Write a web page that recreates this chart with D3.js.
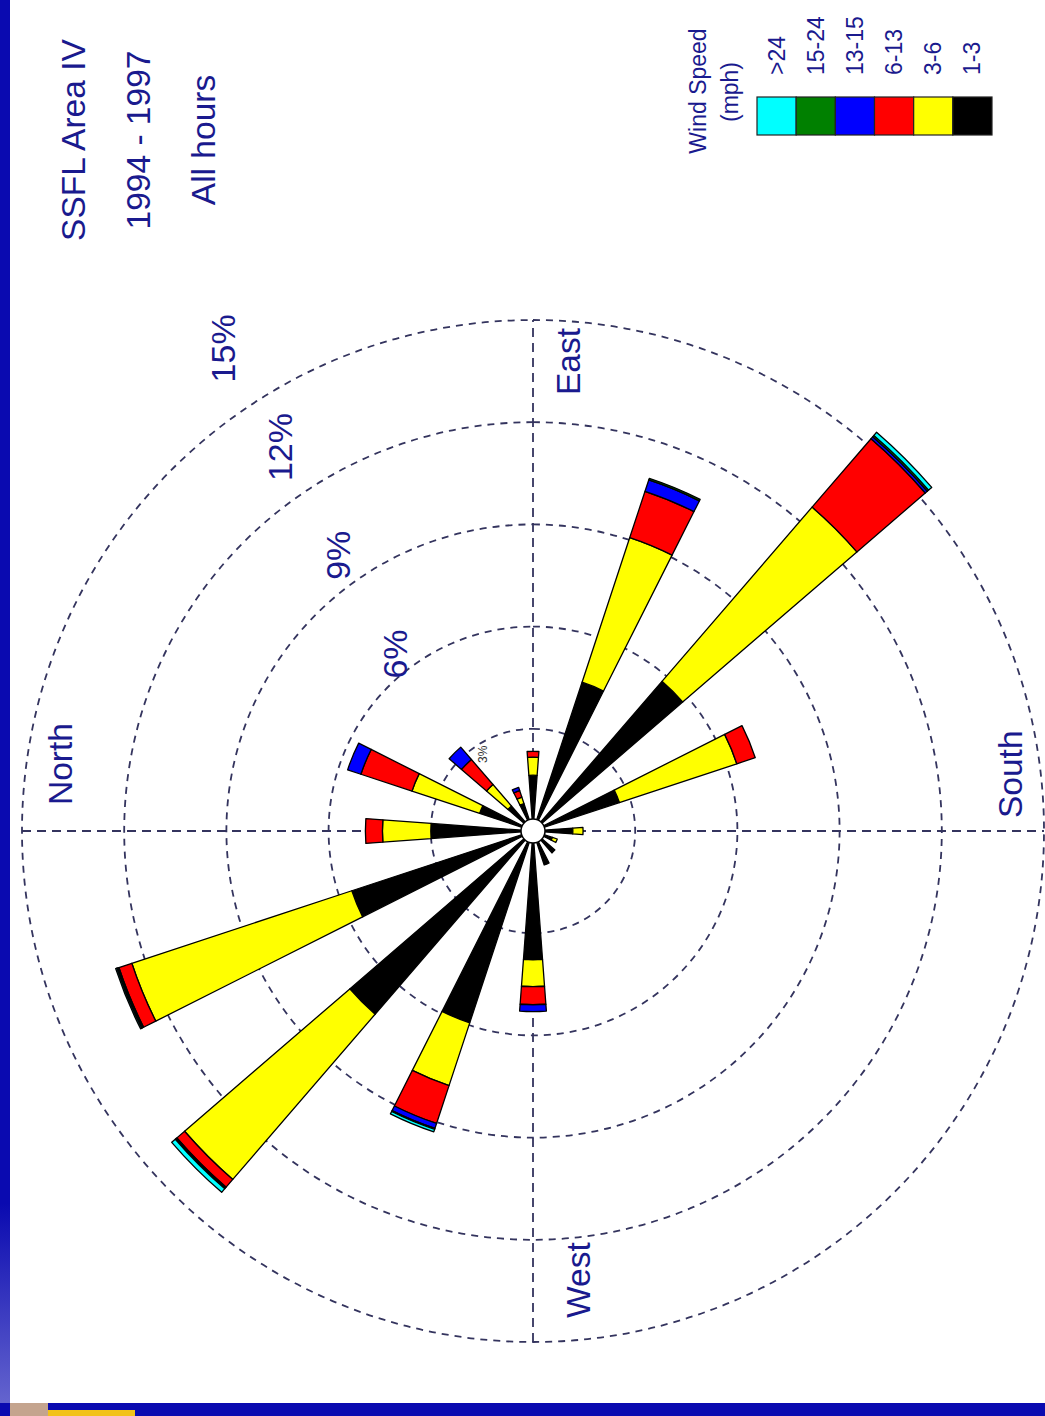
<!DOCTYPE html>
<meta charset="utf-8">
<style>
    html, body {
        margin: 0;
        padding: 0;
        background: #ffffff;
    }
    svg {
        display: block;
        font-family: "Liberation Sans", Arial, sans-serif;
    }
</style>
<div id="chart"></div>
<script src="https://d3js.org/d3.v7.js"></script>
<script>
    // wind rose data, percent of all hours, per direction and speed class
    const directions = ["N", "NNE", "NE", "ENE", "E", "ESE", "SE", "SSE",
        "S", "SSW", "SW", "WSW", "W", "WNW", "NW", "NNW"];
    const speedClasses = ["1-3", "3-6", "6-13", "13-15", "15-24", ">24"];
    const speedColors = ["#000000", "#ffff00", "#ff0000", "#0000ff", "#008000", "#00ffff"];

    const speed1to3   = [3.00, 1.65, 0.97, 0.85, 1.64, 4.60, 5.80, 2.67, 1.17, 0.60, 0.85, 1.05, 3.78, 5.93, 7.10, 5.60];
    const speed3to6   = [1.42, 2.09, 0.83, 0.20, 0.53, 4.47, 6.75, 3.63, 0.30, 0.15, 0.00, 0.00, 0.79, 1.94, 6.40, 6.80];
    const speed6to13  = [0.50, 1.58, 0.97, 0.20, 0.17, 1.43, 2.65, 0.57, 0.00, 0.00, 0.00, 0.00, 0.53, 1.17, 0.30, 0.40];
    const speed13to15 = [0.00, 0.41, 0.48, 0.10, 0.00, 0.35, 0.08, 0.00, 0.00, 0.00, 0.00, 0.00, 0.20, 0.15, 0.03, 0.03];
    const speed15to24 = [0.00, 0.00, 0.00, 0.00, 0.00, 0.05, 0.05, 0.00, 0.00, 0.00, 0.00, 0.00, 0.00, 0.03, 0.03, 0.03];
    const speedOver24 = [0.00, 0.00, 0.00, 0.00, 0.00, 0.00, 0.12, 0.00, 0.00, 0.00, 0.00, 0.00, 0.00, 0.08, 0.14, 0.04];

    const ringTicks = [3, 6, 9, 12, 15];
    const titleLines = ["SSFL Area IV", "1994 - 1997", "All hours"];

    const width = 1045, height = 1416;
    const navy = "#1a1a8e";
    const dashColor = "#34345e";

    let table = directions.map((d, i) => ({
        dir: d,
        "1-3": speed1to3[i],
        "3-6": speed3to6[i],
        "6-13": speed6to13[i],
        "13-15": speed13to15[i],
        "15-24": speed15to24[i],
        ">24": speedOver24[i]
    }));

    let svg = d3.select("#chart").append("svg")
        .attr("width", width)
        .attr("height", height);

    svg.append("rect").attr("width", width).attr("height", height).attr("fill", "#ffffff");

    // slide frame (blue bars)
    let grad = svg.append("defs").append("linearGradient")
        .attr("id", "leftbar").attr("x1", 0).attr("y1", 0).attr("x2", 0).attr("y2", 1);
    grad.append("stop").attr("offset", "0.85").attr("stop-color", "#0a0ab0");
    grad.append("stop").attr("offset", "1").attr("stop-color", "#6a6ad0");
    svg.append("rect").attr("x", 0).attr("y", 0).attr("width", 10).attr("height", 1416).attr("fill", "url(#leftbar)");
    svg.append("rect").attr("x", 0).attr("y", 1403).attr("width", width).attr("height", 13).attr("fill", "#0a0ab0");
    svg.append("rect").attr("x", 10).attr("y", 1403).attr("width", 38).attr("height", 13).attr("fill", "#c4a48e");
    svg.append("rect").attr("x", 48).attr("y", 1410).attr("width", 87).attr("height", 6).attr("fill", "#f2c21a");

    // the whole slide is turned a quarter turn: draw upright, then rotate
    let page = svg.append("g")
        .attr("transform", `translate(0,${height}) rotate(-90)`);

    let cx = 585, cy = 533;
    let rose = page.append("g").attr("transform", `translate(${cx},${cy})`);

    let r = d3.scaleLinear().domain([0, 15]).range([0, 511]);

    let angle = d3.scaleBand()
        .domain(directions)
        .range([-Math.PI / 16, 2 * Math.PI - Math.PI / 16]);
    let petalHalf = (8.5 / 2) * Math.PI / 180;

    // rings
    rose.selectAll("circle.ring")
        .data(ringTicks)
        .enter().append("circle")
        .attr("class", "ring")
        .attr("r", d => r(d))
        .attr("fill", "none")
        .attr("stroke", dashColor)
        .attr("stroke-width", 1.8)
        .attr("stroke-dasharray", "7,6");

    // axes
    let rMax = r(15);
    rose.selectAll("line.axis")
        .data([[-rMax, 0, rMax, 0], [0, -rMax, 0, rMax]])
        .enter().append("line")
        .attr("x1", d => d[0]).attr("y1", d => d[1])
        .attr("x2", d => d[2]).attr("y2", d => d[3])
        .attr("stroke", dashColor)
        .attr("stroke-width", 1.8)
        .attr("stroke-dasharray", "9,6");

    // ring labels
    rose.selectAll("text.ringlab")
        .data(ringTicks.slice(1))
        .enter().append("text")
        .attr("x", d => r(d) * 0.966 - 45)
        .attr("y", d => -r(d) * 0.559 - 12)
        .attr("fill", navy)
        .attr("font-size", 34)
        .text(d => d + "%");

    // petals
    let stacked = d3.stack().keys(speedClasses)(table);
    let arc = d3.arc()
        .innerRadius(d => r(d[0]))
        .outerRadius(d => r(d[1]))
        .startAngle(d => angle(d.data.dir) + angle.bandwidth() / 2 - petalHalf)
        .endAngle(d => angle(d.data.dir) + angle.bandwidth() / 2 + petalHalf);

    rose.selectAll("g.speed")
        .data(stacked)
        .enter().append("g")
        .attr("class", "speed")
        .attr("fill", (d, i) => speedColors[i])
        .selectAll("path")
        .data(d => d.filter(s => s[1] - s[0] > 0))
        .enter().append("path")
        .attr("d", arc)
        .attr("stroke", "#000")
        .attr("stroke-width", 1.3)
        .attr("stroke-linejoin", "round");

    // small 3% label sitting beside the NE petal
    rose.append("text")
        .attr("x", 68).attr("y", -46)
        .attr("fill", "#333")
        .attr("font-size", 12)
        .text("3%");

    // calm hole
    rose.append("circle")
        .attr("r", 12)
        .attr("fill", "#ffffff")
        .attr("stroke", "#000")
        .attr("stroke-width", 1.5);

    // compass labels
    let compass = [
        {name: "North", x: 26, y: -461},
        {name: "East", x: 436, y: 47},
        {name: "South", x: 13, y: 489},
        {name: "West", x: -487, y: 57}
    ];
    rose.selectAll("text.compass")
        .data(compass)
        .enter().append("text")
        .attr("x", d => d.x)
        .attr("y", d => d.y)
        .attr("fill", navy)
        .attr("font-size", 33.5)
        .text(d => d.name);

    // title block
    page.selectAll("text.title")
        .data(titleLines)
        .enter().append("text")
        .attr("x", 1276)
        .attr("y", (d, i) => 85 + i * 65)
        .attr("text-anchor", "middle")
        .attr("fill", navy)
        .attr("font-size", 33.5)
        .text(d => d);

    // legend
    let legendOrder = speedClasses.slice().reverse();
    let band = d3.scaleBand().domain(legendOrder).range([757, 992]);

    page.selectAll("rect.key")
        .data(legendOrder)
        .enter().append("rect")
        .attr("x", 1281)
        .attr("y", d => band(d))
        .attr("width", 38)
        .attr("height", band.bandwidth())
        .attr("fill", d => speedColors[speedClasses.indexOf(d)])
        .attr("stroke", "#222")
        .attr("stroke-width", 1.2);

    page.selectAll("text.key")
        .data(legendOrder)
        .enter().append("text")
        .attr("x", 1341)
        .attr("y", d => band(d) + band.bandwidth() / 2 + 8)
        .attr("fill", navy)
        .attr("font-size", 23)
        .text(d => d);

    page.append("text")
        .attr("x", 1325).attr("y", 706)
        .attr("text-anchor", "middle")
        .attr("fill", navy)
        .attr("font-size", 23)
        .text("Wind Speed");
    page.append("text")
        .attr("x", 1324).attr("y", 738)
        .attr("text-anchor", "middle")
        .attr("fill", navy)
        .attr("font-size", 23)
        .text("(mph)");
</script>
